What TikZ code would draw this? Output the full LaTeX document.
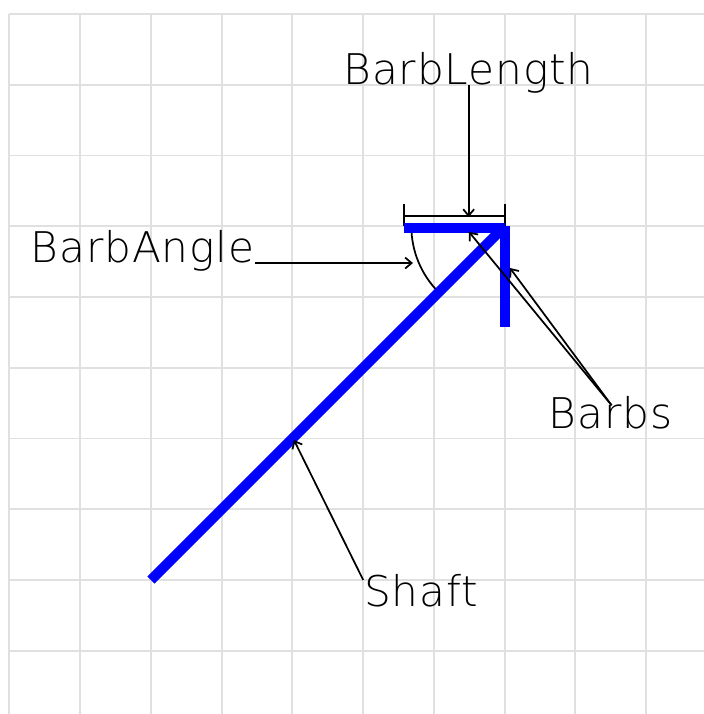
\documentclass[tikz,border=0pt]{standalone}
\usepackage{fontspec}
\newfontfamily\cadfont[LetterSpace=2.1]{DejaVu Sans ExtraLight}
\usetikzlibrary{arrows,arrows.meta,positioning}
\tikzstyle{gridline} = [draw=black!12, line width=0.8pt]
\tikzstyle{thin black} = [draw=black, line width=0.7pt]
\tikzstyle{blue bar} = [draw=blue, line width=4pt]
\tikzstyle{cad label} = [inner sep=0pt, text depth=0pt, font=\cadfont\fontsize{17pt}{17pt}\selectfont]
\tikzset{>={Straight Barb[length=2.6pt,width=4.4pt]}}

\begin{document}
\begin{tikzpicture}
\useasboundingbox (-2.134,-1.894) rectangle (7.816,8.198);

\foreach \x in {-2,-1,...,7} {
    \draw[gridline] (\x,-1.894) -- (\x,8);
}
\foreach \y in {-1,0,...,8} {
    \draw[gridline] (-2,\y) -- (7.816,\y);
}

    \node[cad label, anchor=south] (barblength) at (4.49,6.997) {BarbLength};
    \node[cad label, anchor=south east] (barbangle) at (1.47,4.48) {BarbAngle};
    \node[cad label, anchor=south] (barbs) at (6.495,2.134) {Barbs};
    \node[cad label, anchor=south] (shaft) at (3.816,-0.38) {Shaft};

    \coordinate (lengthtip) at (4.49,5.13);
    \coordinate (angletip) at (3.703,4.48);
    \coordinate (upperbarb) at (4.495,4.92);
    \coordinate (lowerbarb) at (5.074,4.41);
    \coordinate (shafttip) at (2.02,1.98);
    \coordinate (barbsfrom) at (6.51,2.47);
    \coordinate (shaftfrom) at (3,0);

    \draw[thin black] (3.576,5.148) -- (5,5.148);
    \draw[thin black] (3.576,5) -- (3.576,5.31);
    \draw[thin black] (5,5) -- (5,5.31);
    \draw[thin black] (3.68,5) arc[start angle=180, end angle=225, radius=1.32];

    \draw[blue bar] (0,0) -- (4.98,4.98);
    \draw[blue bar] (3.576,4.975) -- (5,4.975);
    \draw[blue bar] (5.003,5) -- (5.003,3.58);

    \draw[thin black,->] (barblength) -- (lengthtip);
    \draw[thin black,->] (barbangle.south east) -- (angletip);
    \draw[thin black,->] (barbsfrom) -- (upperbarb);
    \draw[thin black,->] (barbsfrom) -- (lowerbarb);
    \draw[thin black,->] (shaftfrom) -- (shafttip);
\end{tikzpicture}
\end{document}
